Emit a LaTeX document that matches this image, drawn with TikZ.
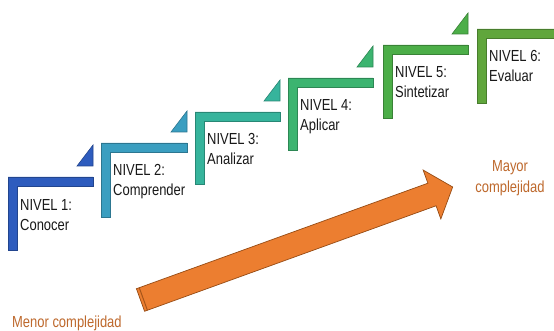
\documentclass[tikz,border=0pt]{standalone}
\usepackage{fontspec}
\setmainfont[FakeStretch=0.81]{Liberation Sans}
\definecolor{cA}{RGB}{46,92,190}
\definecolor{cB}{RGB}{58,158,192}
\definecolor{cC}{RGB}{54,180,156}
\definecolor{cD}{RGB}{60,180,112}
\definecolor{cE}{RGB}{76,174,72}
\definecolor{cF}{RGB}{96,166,60}
\definecolor{arrowfill}{RGB}{236,126,48}
\definecolor{arrowedge}{RGB}{150,75,20}
\definecolor{txtorange}{RGB}{190,105,45}
\tikzset{
  lvltext/.style={anchor=base west, align=left, inner sep=0pt, font=\fontsize{16}{20}\selectfont, text=black!90},
  cxtext/.style={align=center, inner sep=0pt, font=\fontsize{16}{21}\selectfont, text=txtorange},
}
\begin{document}
\begin{tikzpicture}[x=1pt,y=-1pt]
\useasboundingbox (0,0) rectangle (554,331);
\fill[white] (0,0) rectangle (554,331);
% steps: x0, y0, bottom, right, colour, label1, label2, triangle?
\foreach \xo/\yo/\yb/\xr/\col/\la/\lb/\tri/\nm in {
  8/177/250/93/cA/{NIVEL 1:}/{Conocer}/1/lvA,
  101/143/217/187/cB/{NIVEL 2:}/{Comprender}/1/lvB,
  195/112/184/280/cC/{NIVEL 3:}/{Analizar}/1/lvC,
  288/78/150/373/cD/{NIVEL 4:}/{Aplicar}/1/lvD,
  383/45/118/468/cE/{NIVEL 5:}/{Sintetizar}/1/lvE,
  477/29/103/556/cF/{NIVEL 6:}/{Evaluar}/0/lvF}
{
  \fill[\col, draw=\col!75!black, line width=0.6pt]
    (\xo,\yo) -- (\xr,\yo) -- (\xr,\yo+9) -- (\xo+9,\yo+9) -- (\xo+9,\yb) -- (\xo,\yb) -- cycle;
  \ifnum\tri=1
    \fill[\col, draw=\col!75!black, line width=0.6pt]
      (\xr-16,\yo-11) -- (\xr,\yo-11) -- (\xr,\yo-32) -- cycle;
  \fi
  \node[lvltext] (\nm) at (\xo+12,\yo+53) {\la\\\lb};
}
% arrow
\begin{scope}[shift={(140.5,300)}, rotate=19.9]
  \fill[arrowfill, draw=arrowedge, line width=0.7pt, line join=miter]
    (0,-12) -- (310,-12) -- (310,-26) -- (332,0) -- (310,26) -- (310,12) -- (0,12) -- cycle;
  \draw[arrowedge!80!arrowfill, line width=1pt] (3,-12) -- (3,12);
  \coordinate (tail) at (0,0);
  \coordinate (tip) at (332,0);
\end{scope}
\node[cxtext] (mayor) at (510,178) {Mayor\\complejidad};
\node[cxtext, anchor=base west] (menor) at (12,327) {Menor complejidad};
\end{tikzpicture}
\end{document}
